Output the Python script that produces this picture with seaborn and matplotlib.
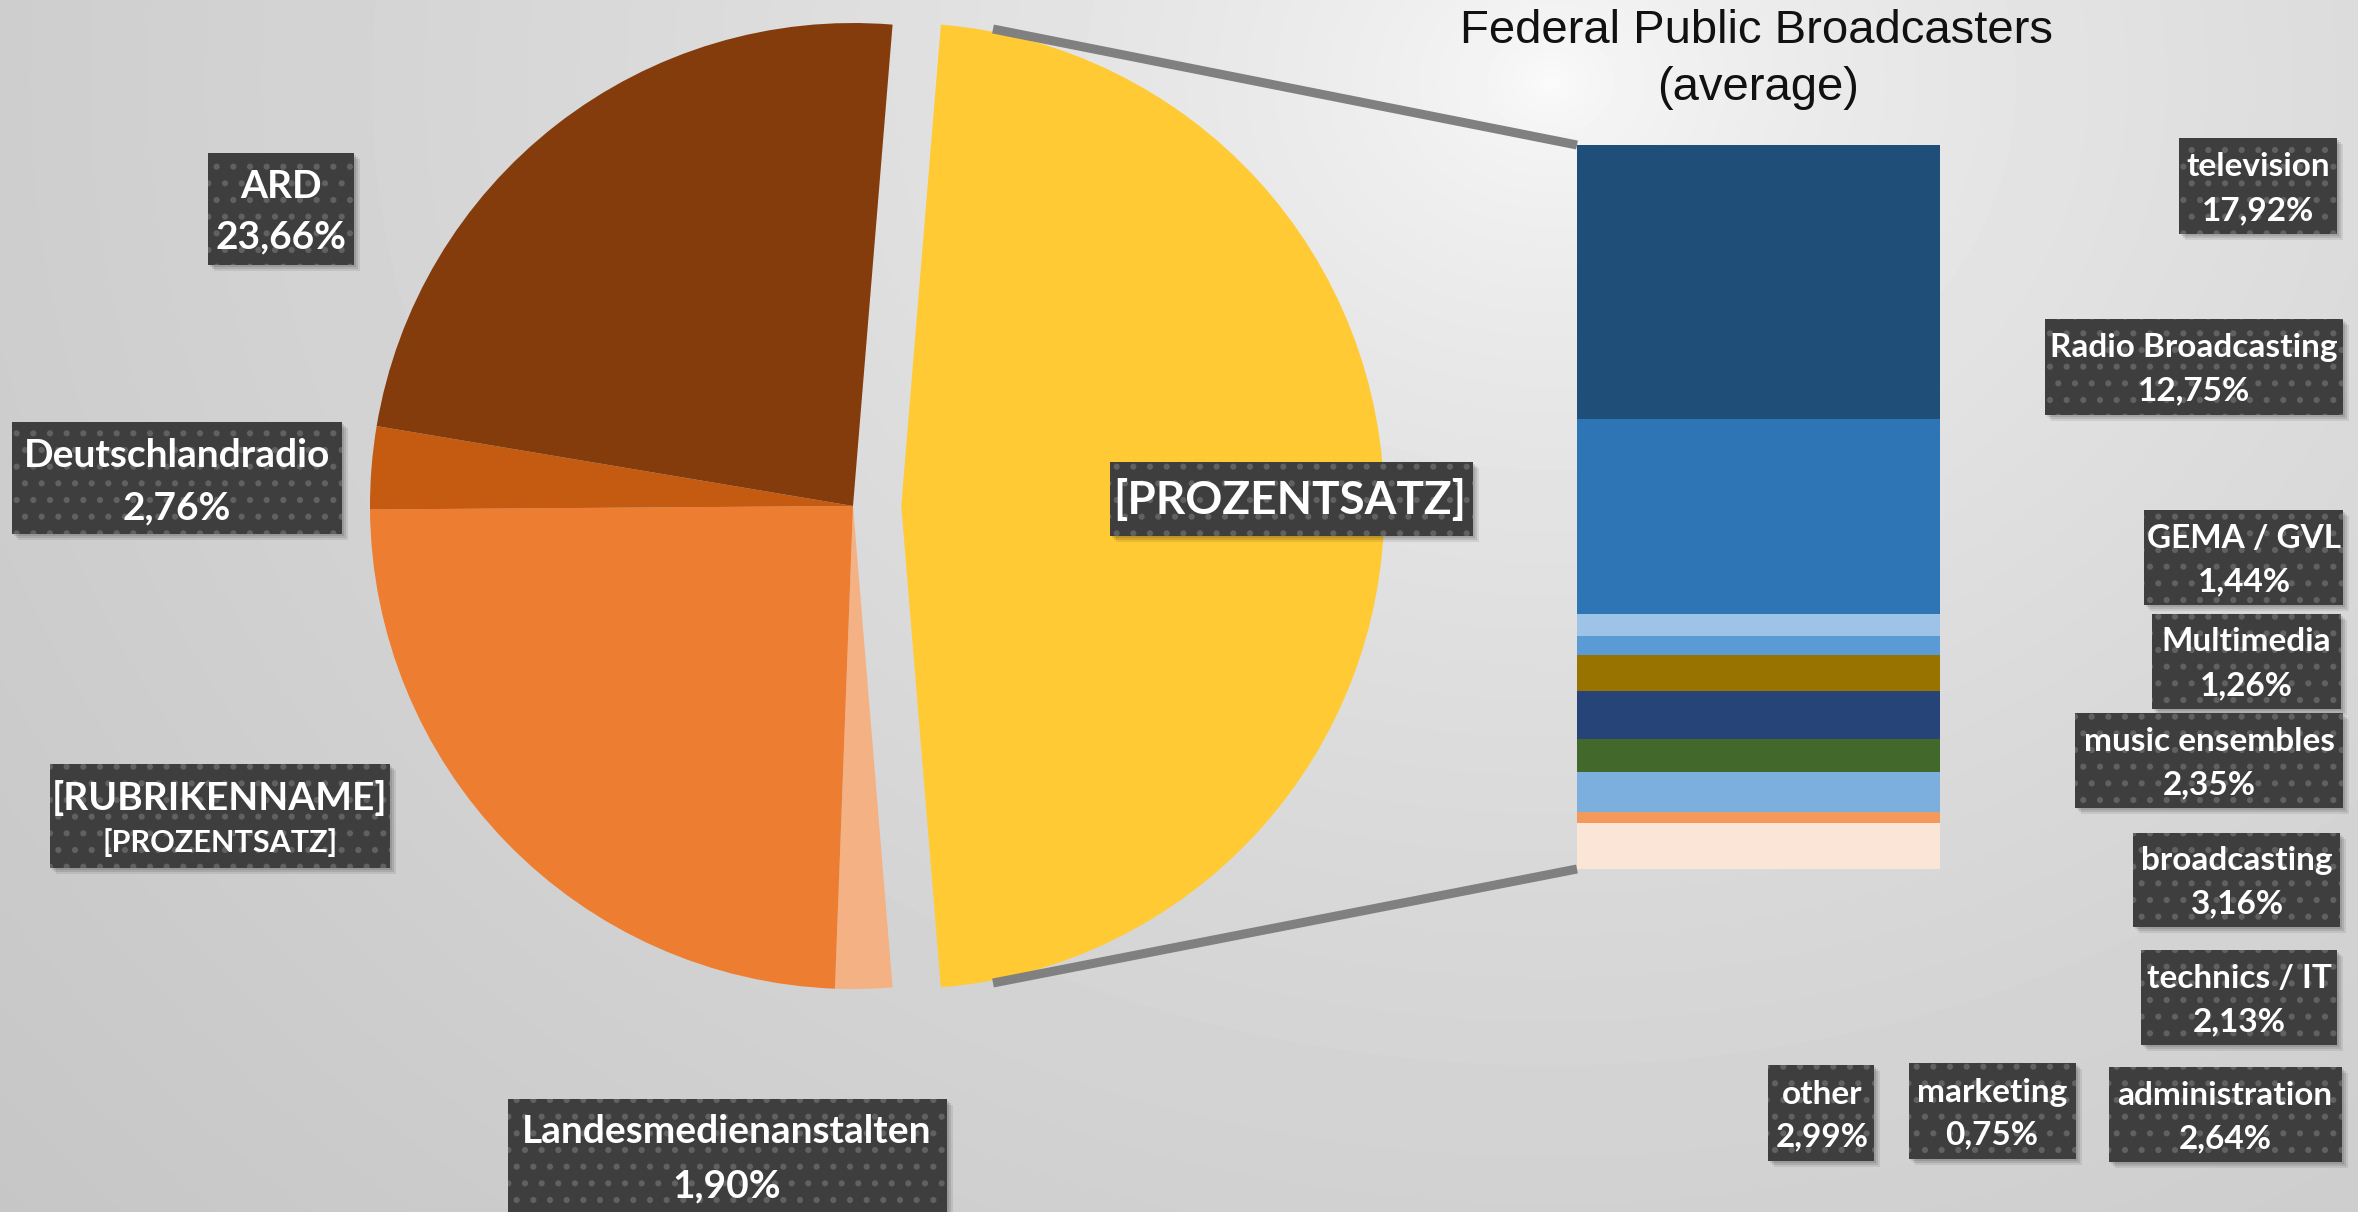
import numpy as np
import pandas as pd
import seaborn as sns
import matplotlib
import matplotlib.pyplot as plt
from matplotlib.patches import Rectangle
from matplotlib.lines import Line2D

matplotlib.use("agg")

# pie: the yellow slice is the federal broadcasters, broken down in the bar
pie_names = ["[PROZENTSATZ]", "Landesmedienanstalten", "[RUBRIKENNAME]", "Deutschlandradio", "ARD"]
pie_values = [47.39, 1.90, 24.29, 2.76, 23.66]
pie_colors = ["#FFCA33", "#F4B183", "#ED7D31", "#C55A11", "#843C0C"]

# bar, from top to bottom
bar_names = ["television", "Radio Broadcasting", "GEMA / GVL", "Multimedia",
             "music ensembles", "broadcasting", "technics / IT", "administration",
             "marketing", "other"]
bar_values = [17.92, 12.75, 1.44, 1.26, 2.35, 3.16, 2.13, 2.64, 0.75, 2.99]
bar_colors = ["#1F4E79", "#2E75B6", "#9DC3E6", "#5B9BD5", "#997300",
              "#264478", "#43682B", "#7CAFDD", "#F4995C", "#FBE5D6"]

title_lines = ["Federal Public Broadcasters", "(average)"]

W, H = 2358, 1212

# label boxes in pixels: box (x0, y0, x1, y1), text center x, baselines, font sizes
pie_label_boxes = {
    "ARD": ((208, 153, 354, 265), 281, (198, 248), (28, 28)),
    "Deutschlandradio": ((12, 422, 342, 534), 177, (467, 519), (28, 28)),
    "[RUBRIKENNAME]": ((50, 764, 390, 868), 220, (810, 852), (28, 22)),
    "Landesmedienanstalten": ((508, 1099, 947, 1230), 727, (1143, 1197), (28, 28)),
    "[PROZENTSATZ]": ((1110, 462, 1473, 536), 1290, (514,), (33,)),
}
bar_label_boxes = {
    "television": ((2179, 138, 2337, 234), 2258, (176, 220)),
    "Radio Broadcasting": ((2045, 319, 2343, 415), 2194, (357, 400)),
    "GEMA / GVL": ((2144, 510, 2343, 605), 2244, (548, 591)),
    "Multimedia": ((2152, 614, 2341, 709), 2246, (651, 695)),
    "music ensembles": ((2075, 713, 2343, 808), 2209, (751, 794)),
    "broadcasting": ((2133, 833, 2340, 927), 2237, (870, 913)),
    "technics / IT": ((2141, 950, 2337, 1045), 2239, (988, 1031)),
    "other": ((1768, 1065, 1874, 1161), 1822, (1104, 1146)),
    "marketing": ((1909, 1063, 2076, 1159), 1992, (1102, 1144)),
    "administration": ((2109, 1067, 2342, 1162), 2225, (1105, 1148)),
}


def fmt(v):
    return f"{v:.2f}%".replace(".", ",")


def draw_box(ax, box):
    x0, y0, x1, y1 = box
    for off, a in [(2, 0.10), (4, 0.10), (6, 0.08)]:
        ax.add_patch(Rectangle((x0 + off, y0 + off), x1 - x0, y1 - y0,
                               facecolor="black", alpha=a, linewidth=0))
    ax.add_patch(Rectangle((x0, y0), x1 - x0, y1 - y0, facecolor="#3e3e3e",
                           edgecolor="#616161", hatch=".", linewidth=0))


def plot():
    sns.set_theme(style="white")
    plt.rcParams["hatch.linewidth"] = 2.0

    f = plt.figure(figsize=(W / 100, H / 100), dpi=100)

    # background gradient
    bg = f.add_axes([0, 0, 1, 1])
    yy, xx = np.mgrid[0:H:4, 0:W:4]
    d = np.hypot((xx - 1550) / 1.2, yy - 80)
    grey = np.clip(252 - 0.9 * d ** 0.55, 0, 255)
    bg.imshow(grey, cmap="gray", vmin=0, vmax=255, aspect="auto",
              extent=[0, W, H, 0], interpolation="bilinear")
    bg.set_axis_off()

    # pie, center (853, 506), radius 483 px
    cx, cy, r = 853, 506, 483
    xl, yl = (-1.1, 1.2), (-1.1, 1.1)
    ax_pie = f.add_axes([(cx + xl[0] * r) / W, 1 - (cy - yl[0] * r) / H,
                         (xl[1] - xl[0]) * r / W, (yl[1] - yl[0]) * r / H])
    ax_pie.pie(pie_values, colors=pie_colors, startangle=85.3, counterclock=False,
               explode=[0.1, 0, 0, 0, 0], wedgeprops=dict(linewidth=0))
    ax_pie.set_xlim(*xl)
    ax_pie.set_ylim(*yl)
    ax_pie.patch.set_visible(False)

    # stacked bar by overlaying cumulative bars
    df = pd.DataFrame({"part": bar_names, "value": bar_values, "color": bar_colors})
    df["top"] = df["value"][::-1].cumsum()[::-1]
    bx0, by0, bx1, by1 = 1577, 145, 1940, 869
    ax_bar = f.add_axes([bx0 / W, 1 - by1 / H, (bx1 - bx0) / W, (by1 - by0) / H])
    for _, row in df.iterrows():
        sns.barplot(x=[0], y=[row.top], color=row.color, saturation=1,
                    width=1, linewidth=0, ax=ax_bar)
    ax_bar.set_xlim(-0.5, 0.5)
    ax_bar.set_ylim(0, df["value"].sum())
    ax_bar.set_axis_off()

    # overlay in pixel coordinates
    ov = f.add_axes([0, 0, 1, 1])
    ov.set_xlim(0, W)
    ov.set_ylim(H, 0)
    ov.set_axis_off()
    ov.patch.set_visible(False)

    # connector lines
    for (x1, y1), (x2, y2) in [((993, 29), (bx0, by0)), ((993, 983), (bx0, by1))]:
        ov.add_line(Line2D([x1, x2], [y1, y2], color="#808080", lw=6.5,
                           solid_capstyle="butt"))

    # title
    ov.text(1757, 43, title_lines[0], ha="center", va="baseline", fontsize=34,
            family="Liberation Sans", color="#111111")
    ov.text(1758, 100, title_lines[1], ha="center", va="baseline", fontsize=34,
            family="Liberation Sans", color="#111111")

    # pie labels
    for name, value in zip(pie_names, pie_values):
        box, tx, bases, sizes = pie_label_boxes[name]
        draw_box(ov, box)
        if name == "[PROZENTSATZ]":
            lines = ["[PROZENTSATZ]"]
        elif name == "[RUBRIKENNAME]":
            lines = ["[RUBRIKENNAME]", "[PROZENTSATZ]"]
        else:
            lines = [name, fmt(value)]
        for text, base, size in zip(lines, bases, sizes):
            ov.text(tx, base, text, ha="center", va="baseline", fontsize=size,
                    family="Lato", weight="bold", color="white")

    # bar labels
    for name, value in zip(bar_names, bar_values):
        box, tx, bases = bar_label_boxes[name]
        draw_box(ov, box)
        for text, base in zip([name, fmt(value)], bases):
            ov.text(tx, base, text, ha="center", va="baseline", fontsize=24,
                    family="Lato", weight="bold", color="white")

    return f


if __name__ == "__main__":
    fig = plot()
    fig.savefig("out.png", dpi=100)
